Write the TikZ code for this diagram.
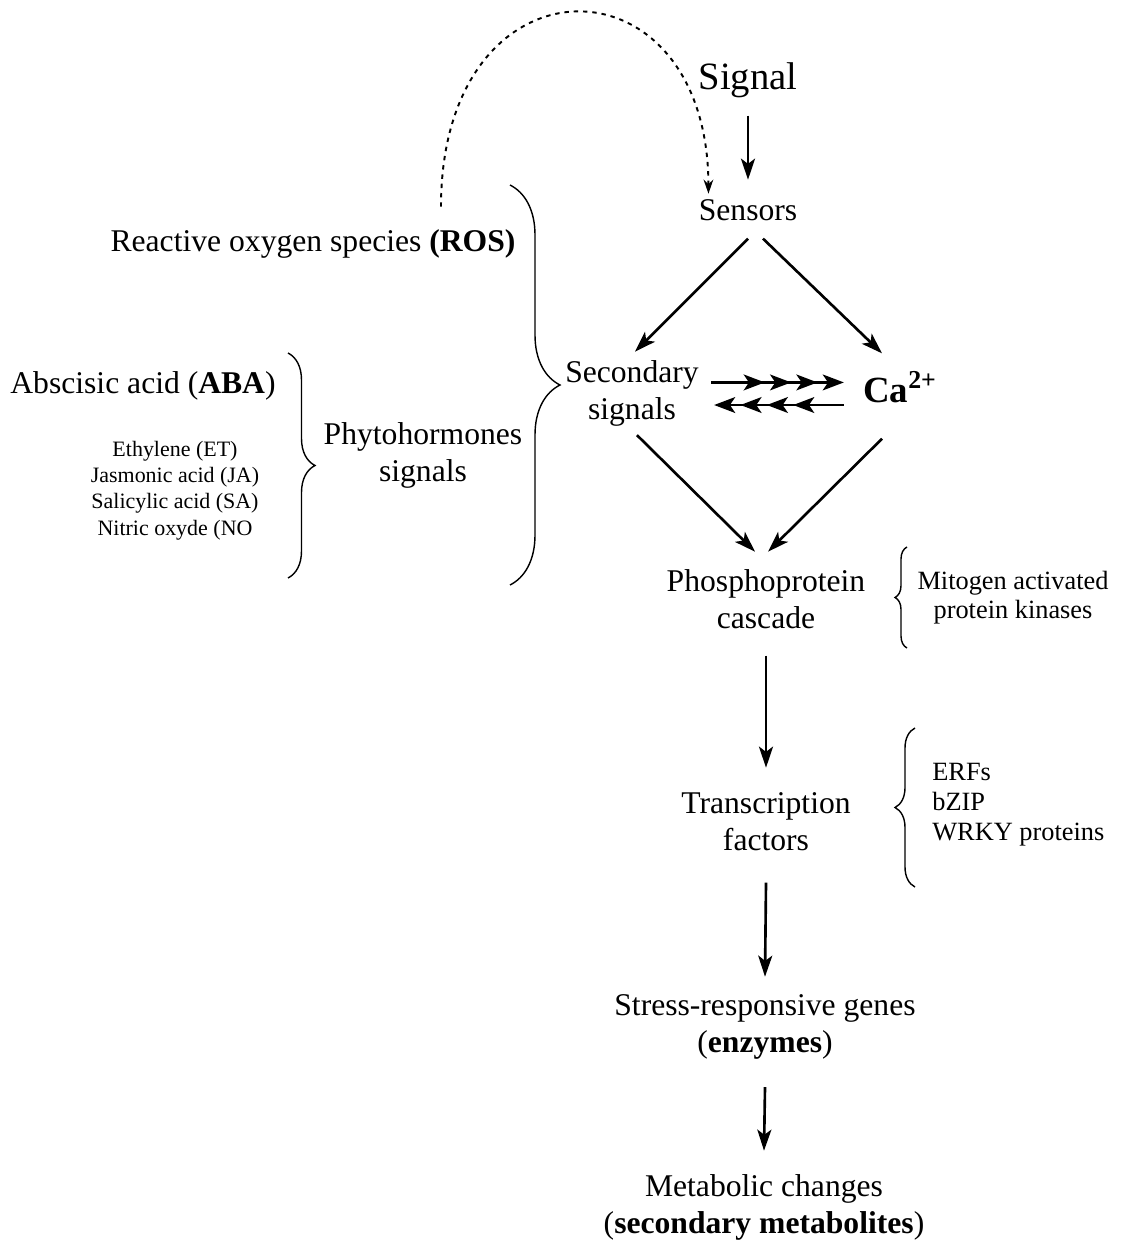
\documentclass[tikz,border=0pt]{standalone}
\usepackage{fontspec}
\setmainfont{Liberation Serif}
\usepackage{tikz}
\usetikzlibrary{arrows.meta,calc,decorations.pathreplacing}

\begin{document}
\begin{tikzpicture}[x=0.02cm,y=-0.02cm,
    txt/.style={inner sep=0pt,anchor=base,align=center,font=\fontsize{18}{20.5}\selectfont},
    bigtxt/.style={inner sep=0pt,anchor=base,font=\fontsize{22}{26}\selectfont},
    smalltxt/.style={inner sep=0pt,anchor=base,align=center,font=\fontsize{12.5}{14.8}\selectfont},
    sidetxt/.style={inner sep=0pt,anchor=base,font=\fontsize{15}{16}\selectfont},
    arr/.style={line width=1.5pt,-{Stealth[length=12pt,width=8pt,inset=3pt]}},
    feather/.style={line width=1.5pt,-{Stealth[length=12pt,width=9pt,inset=3pt,sep=3pt] Stealth[length=12pt,width=9pt,inset=3pt,sep=3pt] Stealth[length=12pt,width=9pt,inset=3pt,sep=3pt] Stealth[length=12pt,width=9pt,inset=3pt]}},
    brc/.style={decorate,line width=0.8pt,decoration={brace,amplitude=#1}},
    dots/.style={line width=1.1pt,dash pattern=on 2.5pt off 2.8pt,-{Stealth[length=8pt,width=5.5pt]}}]
    \useasboundingbox (0,0) rectangle (1120,1243);

    %% main cascade (multi-line nodes sit on their last baseline)
    \node[bigtxt] (sig) at (748,90) {Signal};
    \node[txt] (sens) at (748,221) {Sensors};
    \node[txt] (sec) at (632,419) {Secondary\\signals};
    \node[inner sep=0pt,anchor=base,font=\fontsize{21}{24}\selectfont\bfseries] (ca) at (900,402) {Ca\textsuperscript{2+}};
    \node[txt] (phos) at (766,628) {Phosphoprotein\\cascade};
    \node[txt] (tf) at (766,850) {Transcription\\factors};
    \node[txt] (genes) at (765,1052) {Stress-responsive genes\\(\textbf{enzymes})};
    \node[txt] (metab) at (764,1233) {Metabolic changes\\(\textbf{secondary metabolites})};

    %% side labels
    \node[sidetxt,align=center] (mapk) at (1013,618) {Mitogen activated\\protein kinases};
    \node[sidetxt,anchor=base west,align=left,font=\fontsize{15}{17}\selectfont] (tfam) at (932,840) {ERFs\\bZIP\\WRKY proteins};

    %% left: signal molecules
    \node[txt] (ros) at (313,252) {Reactive oxygen species \textbf{(ROS)}};
    \node[txt] (aba) at (143,393) {Abscisic acid (\textbf{ABA})};
    \node[smalltxt] (horm) at (175,535) {Ethylene (ET)\\Jasmonic acid (JA)\\Salicylic acid (SA)\\Nitric oxyde (NO};
    \node[txt] (phyto) at (423,481) {Phytohormones\\signals};

    % braces
    \draw[brc=0.54cm] (288,353) -- (288,578);
    \draw[brc=1cm] (510,185) -- (510,585);
    \draw[brc=0.24cm] (907,648) -- (907,547);
    \draw[brc=0.4cm] (915,887) -- (915,728);

    % arrows
    \draw[arr] ($(sig.south)+(0,17)$) -- ($(sens.north)+(0,-20)$);
    \draw[arr] ($(sens.south)+(0,17)$) -- ($(sec.north)+(3,-9)$);
    \draw[arr] ($(sens.south)+(15,17)$) -- ($(ca.north)+(-18,-18)$);
    \draw[arr] ($(sec.south)+(5,9)$) -- ($(phos.north)+(-11,-18)$);
    \draw[arr] ($(ca.south)+(-18,36)$) -- ($(phos.north)+(2,-18)$);
    \draw[arr] ($(phos.south)+(0,27)$) -- ($(tf.north)+(0,-25)$);
    \draw[arr] ($(tf.south)+(0,32)$) -- ($(genes.north)+(0,-18)$);
    \draw[arr] ($(genes.south)+(0,28)$) -- ($(metab.north)+(0,-24)$);

    % Ca2+ exchange
    \coordinate (fa) at ($(sec.east)+(12,-11)$);
    \coordinate (fb) at ($(ca.west)+(-19,18)$);
    \draw[feather] (fa) -- ($(fa -| ca.west)+(-19,0)$);
    \draw[feather] (fb) -- ($(fb -| sec.east)+(15,0)$);

    % ROS feedback to sensors
    \draw[dots] ($(ros.north)+(128,-23)$) .. controls (441,-50) and (708,-50) .. ($(sens.north west)+(10,-6)$);
\end{tikzpicture}
\end{document}
